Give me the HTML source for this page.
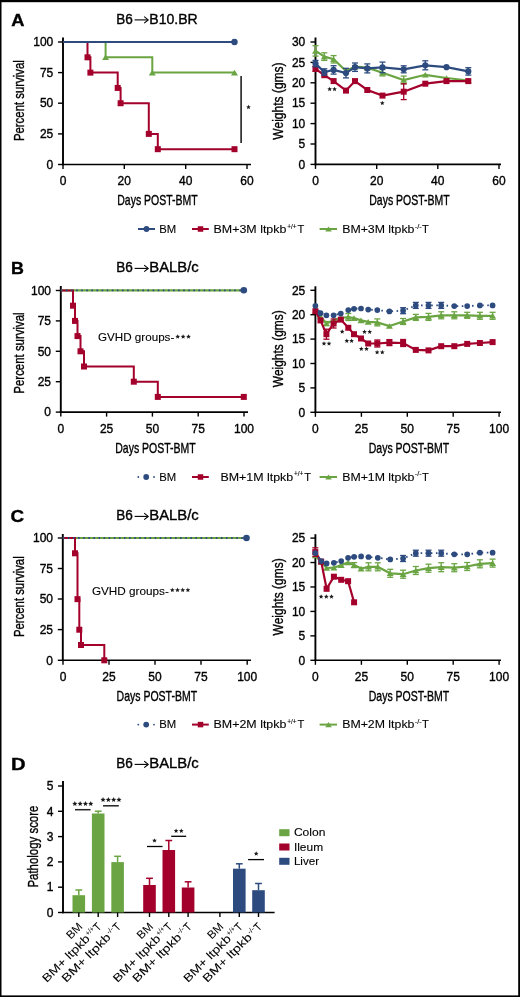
<!DOCTYPE html>
<html><head><meta charset="utf-8"><style>
html,body{margin:0;padding:0;background:#fff;}
body{width:520px;height:997px;overflow:hidden;}
svg{display:block;font-family:"Liberation Sans", sans-serif;will-change:transform;} text{stroke:#000;stroke-width:0.35px;} .nl text{stroke-width:0.05px;} text.lg{stroke-width:0.1px;}
</style></head><body>
<svg width="520" height="997" viewBox="0 0 520 997">
<rect x="0" y="0" width="520" height="997" fill="#fff"/>
<text x="11.3" y="25.8" font-size="16.5" text-anchor="start" font-weight="bold" textLength="13.2" lengthAdjust="spacingAndGlyphs">A</text>
<text x="11.0" y="274.3" font-size="16.5" text-anchor="start" font-weight="bold" textLength="12.9" lengthAdjust="spacingAndGlyphs">B</text>
<text x="10.6" y="522.2" font-size="16.5" text-anchor="start" font-weight="bold" textLength="13.6" lengthAdjust="spacingAndGlyphs">C</text>
<text x="11.0" y="770.2" font-size="16.5" text-anchor="start" font-weight="bold" textLength="14.6" lengthAdjust="spacingAndGlyphs">D</text>
<text x="116.2" y="23.9" font-size="13.8" text-anchor="start" textLength="16.6" lengthAdjust="spacingAndGlyphs">B6</text>
<line x1="134.6" y1="19.9" x2="147.6" y2="19.9" stroke="#000" stroke-width="1.1"/>
<polyline points="144.20,16.60 148.20,19.90 144.20,23.20" fill="none" stroke="#000" stroke-width="1.1"/>
<text x="149.3" y="23.9" font-size="13.8" text-anchor="start" textLength="48.5" lengthAdjust="spacingAndGlyphs">B10.BR</text>
<text x="116.2" y="272.4" font-size="13.8" text-anchor="start" textLength="16.6" lengthAdjust="spacingAndGlyphs">B6</text>
<line x1="134.6" y1="268.4" x2="147.6" y2="268.4" stroke="#000" stroke-width="1.1"/>
<polyline points="144.20,265.10 148.20,268.40 144.20,271.70" fill="none" stroke="#000" stroke-width="1.1"/>
<text x="149.3" y="272.4" font-size="13.8" text-anchor="start" textLength="49.5" lengthAdjust="spacingAndGlyphs">BALB/c</text>
<text x="116.2" y="520.4" font-size="13.8" text-anchor="start" textLength="16.6" lengthAdjust="spacingAndGlyphs">B6</text>
<line x1="134.6" y1="516.4" x2="147.6" y2="516.4" stroke="#000" stroke-width="1.1"/>
<polyline points="144.20,513.10 148.20,516.40 144.20,519.70" fill="none" stroke="#000" stroke-width="1.1"/>
<text x="149.3" y="520.4" font-size="13.8" text-anchor="start" textLength="49.5" lengthAdjust="spacingAndGlyphs">BALB/c</text>
<text x="116.2" y="768.4" font-size="13.8" text-anchor="start" textLength="16.6" lengthAdjust="spacingAndGlyphs">B6</text>
<line x1="134.6" y1="764.4" x2="147.6" y2="764.4" stroke="#000" stroke-width="1.1"/>
<polyline points="144.20,761.10 148.20,764.40 144.20,767.70" fill="none" stroke="#000" stroke-width="1.1"/>
<text x="149.3" y="768.4" font-size="13.8" text-anchor="start" textLength="49.5" lengthAdjust="spacingAndGlyphs">BALB/c</text>
<line x1="63" y1="37.5" x2="63" y2="165.3" stroke="#000" stroke-width="1.9"/>
<line x1="58" y1="42" x2="63" y2="42" stroke="#000" stroke-width="1.4"/>
<text x="53.3" y="46.2" font-size="12" text-anchor="end">100</text>
<line x1="58" y1="72.6" x2="63" y2="72.6" stroke="#000" stroke-width="1.4"/>
<text x="53.3" y="76.8" font-size="12" text-anchor="end">75</text>
<line x1="58" y1="103.2" x2="63" y2="103.2" stroke="#000" stroke-width="1.4"/>
<text x="53.3" y="107.4" font-size="12" text-anchor="end">50</text>
<line x1="58" y1="133.9" x2="63" y2="133.9" stroke="#000" stroke-width="1.4"/>
<text x="53.3" y="138.1" font-size="12" text-anchor="end">25</text>
<line x1="58" y1="164.5" x2="63" y2="164.5" stroke="#000" stroke-width="1.4"/>
<text x="53.3" y="168.7" font-size="12" text-anchor="end">0</text>
<line x1="62.1" y1="164.5" x2="251" y2="164.5" stroke="#000" stroke-width="1.6"/>
<line x1="63" y1="164.5" x2="63" y2="169.0" stroke="#000" stroke-width="1.4"/>
<text x="63" y="184.8" font-size="12" text-anchor="middle">0</text>
<line x1="124.3" y1="164.5" x2="124.3" y2="169.0" stroke="#000" stroke-width="1.4"/>
<text x="124.3" y="184.8" font-size="12" text-anchor="middle">20</text>
<line x1="185.7" y1="164.5" x2="185.7" y2="169.0" stroke="#000" stroke-width="1.4"/>
<text x="185.7" y="184.8" font-size="12" text-anchor="middle">40</text>
<line x1="247" y1="164.5" x2="247" y2="169.0" stroke="#000" stroke-width="1.4"/>
<text x="247" y="184.8" font-size="12" text-anchor="middle">60</text>
<text x="24.4" y="100.6" font-size="14.6" text-anchor="middle" textLength="81" lengthAdjust="spacingAndGlyphs" transform="rotate(-90 24.4 100.6)">Percent survival</text>
<text x="157.5" y="205.4" font-size="14.3" text-anchor="middle" textLength="80.5" lengthAdjust="spacingAndGlyphs">Days POST-BMT</text>
<polyline points="63.00,42.00 105.60,42.00 105.60,57.31 152.30,57.31 152.30,72.62 234.50,72.62" fill="none" stroke="#6ba543" stroke-width="2" stroke-linejoin="miter"/>
<polygon points="102.10,60.11 109.10,60.11 105.60,54.51" fill="#6ba543"/>
<polygon points="148.80,75.42 155.80,75.42 152.30,69.83" fill="#6ba543"/>
<polygon points="231.00,75.42 238.00,75.42 234.50,69.83" fill="#6ba543"/>
<polyline points="63.00,42.00 87.50,42.00 87.50,57.31 90.40,57.31 90.40,72.62 117.70,72.62 117.70,87.94 120.60,87.94 120.60,103.25 148.80,103.25 148.80,133.88 157.80,133.88 157.80,149.19 234.50,149.19" fill="none" stroke="#a3002b" stroke-width="2" stroke-linejoin="miter"/>
<rect x="84.50" y="54.31" width="6" height="6" fill="#a3002b"/>
<rect x="87.40" y="69.62" width="6" height="6" fill="#a3002b"/>
<rect x="114.70" y="84.94" width="6" height="6" fill="#a3002b"/>
<rect x="117.60" y="100.25" width="6" height="6" fill="#a3002b"/>
<rect x="145.80" y="130.88" width="6" height="6" fill="#a3002b"/>
<rect x="154.80" y="146.19" width="6" height="6" fill="#a3002b"/>
<rect x="231.50" y="146.19" width="6" height="6" fill="#a3002b"/>
<polyline points="63.00,42.00 234.50,42.00" fill="none" stroke="#2d4b7f" stroke-width="2" stroke-linejoin="miter"/>
<circle cx="234.5" cy="42" r="3.2" fill="#2d4b7f"/>
<line x1="241.1" y1="76" x2="241.1" y2="143" stroke="#111" stroke-width="1.5"/>
<polygon points="248.50,104.80 249.13,106.33 250.78,106.46 249.53,107.53 249.91,109.14 248.50,108.28 247.09,109.14 247.47,107.53 246.22,106.46 247.87,106.33" fill="#1a1a1a"/>
<line x1="315.5" y1="37.5" x2="315.5" y2="165.20000000000002" stroke="#000" stroke-width="1.9"/>
<line x1="310.5" y1="42.0" x2="315.5" y2="42.0" stroke="#000" stroke-width="1.4"/>
<text x="305.3" y="46.2" font-size="12" text-anchor="end">30</text>
<line x1="310.5" y1="62.4" x2="315.5" y2="62.4" stroke="#000" stroke-width="1.4"/>
<text x="305.3" y="66.6" font-size="12" text-anchor="end">25</text>
<line x1="310.5" y1="82.8" x2="315.5" y2="82.8" stroke="#000" stroke-width="1.4"/>
<text x="305.3" y="87.0" font-size="12" text-anchor="end">20</text>
<line x1="310.5" y1="103.19999999999999" x2="315.5" y2="103.19999999999999" stroke="#000" stroke-width="1.4"/>
<text x="305.3" y="107.39999999999999" font-size="12" text-anchor="end">15</text>
<line x1="310.5" y1="123.6" x2="315.5" y2="123.6" stroke="#000" stroke-width="1.4"/>
<text x="305.3" y="127.8" font-size="12" text-anchor="end">10</text>
<line x1="310.5" y1="144.0" x2="315.5" y2="144.0" stroke="#000" stroke-width="1.4"/>
<text x="305.3" y="148.2" font-size="12" text-anchor="end">5</text>
<line x1="310.5" y1="164.39999999999998" x2="315.5" y2="164.39999999999998" stroke="#000" stroke-width="1.4"/>
<text x="305.3" y="168.59999999999997" font-size="12" text-anchor="end">0</text>
<line x1="314.6" y1="164.4" x2="501" y2="164.4" stroke="#000" stroke-width="1.6"/>
<line x1="315.5" y1="164.4" x2="315.5" y2="168.9" stroke="#000" stroke-width="1.4"/>
<text x="315.5" y="184.8" font-size="12" text-anchor="middle">0</text>
<line x1="376.7" y1="164.4" x2="376.7" y2="168.9" stroke="#000" stroke-width="1.4"/>
<text x="376.7" y="184.8" font-size="12" text-anchor="middle">20</text>
<line x1="437.8" y1="164.4" x2="437.8" y2="168.9" stroke="#000" stroke-width="1.4"/>
<text x="437.8" y="184.8" font-size="12" text-anchor="middle">40</text>
<line x1="499" y1="164.4" x2="499" y2="168.9" stroke="#000" stroke-width="1.4"/>
<text x="499" y="184.8" font-size="12" text-anchor="middle">60</text>
<text x="283.1" y="101" font-size="14.6" text-anchor="middle" textLength="77.3" lengthAdjust="spacingAndGlyphs" transform="rotate(-90 283.1 101)">Weights (gms)</text>
<text x="409.5" y="205.4" font-size="14.3" text-anchor="middle" textLength="80.5" lengthAdjust="spacingAndGlyphs">Days POST-BMT</text>
<polyline points="315.50,50.90 324.30,56.60 333.60,59.30 346.00,71.00 355.00,66.70 367.30,67.70 382.50,72.70 403.70,80.00 425.30,74.80 446.50,78.00 468.30,80.50" fill="none" stroke="#6ba543" stroke-width="2.2" stroke-linejoin="miter"/>
<line x1="315.5" y1="45.699999999999996" x2="315.5" y2="56.1" stroke="#6ba543" stroke-width="1.3"/>
<line x1="312.5" y1="45.699999999999996" x2="318.5" y2="45.699999999999996" stroke="#6ba543" stroke-width="1.3"/>
<line x1="312.5" y1="56.1" x2="318.5" y2="56.1" stroke="#6ba543" stroke-width="1.3"/>
<line x1="324.3" y1="52.800000000000004" x2="324.3" y2="60.4" stroke="#6ba543" stroke-width="1.3"/>
<line x1="321.3" y1="52.800000000000004" x2="327.3" y2="52.800000000000004" stroke="#6ba543" stroke-width="1.3"/>
<line x1="321.3" y1="60.4" x2="327.3" y2="60.4" stroke="#6ba543" stroke-width="1.3"/>
<line x1="333.6" y1="55.599999999999994" x2="333.6" y2="63.0" stroke="#6ba543" stroke-width="1.3"/>
<line x1="330.6" y1="55.599999999999994" x2="336.6" y2="55.599999999999994" stroke="#6ba543" stroke-width="1.3"/>
<line x1="330.6" y1="63.0" x2="336.6" y2="63.0" stroke="#6ba543" stroke-width="1.3"/>
<line x1="346" y1="69" x2="346" y2="73" stroke="#6ba543" stroke-width="1.3"/>
<line x1="343.0" y1="69" x2="349.0" y2="69" stroke="#6ba543" stroke-width="1.3"/>
<line x1="343.0" y1="73" x2="349.0" y2="73" stroke="#6ba543" stroke-width="1.3"/>
<line x1="355" y1="65.7" x2="355" y2="67.7" stroke="#6ba543" stroke-width="1.3"/>
<line x1="352.0" y1="65.7" x2="358.0" y2="65.7" stroke="#6ba543" stroke-width="1.3"/>
<line x1="352.0" y1="67.7" x2="358.0" y2="67.7" stroke="#6ba543" stroke-width="1.3"/>
<line x1="367.3" y1="66.9" x2="367.3" y2="68.5" stroke="#6ba543" stroke-width="1.3"/>
<line x1="364.3" y1="66.9" x2="370.3" y2="66.9" stroke="#6ba543" stroke-width="1.3"/>
<line x1="364.3" y1="68.5" x2="370.3" y2="68.5" stroke="#6ba543" stroke-width="1.3"/>
<line x1="382.5" y1="69.5" x2="382.5" y2="75.9" stroke="#6ba543" stroke-width="1.3"/>
<line x1="379.5" y1="69.5" x2="385.5" y2="69.5" stroke="#6ba543" stroke-width="1.3"/>
<line x1="379.5" y1="75.9" x2="385.5" y2="75.9" stroke="#6ba543" stroke-width="1.3"/>
<line x1="403.7" y1="76.1" x2="403.7" y2="83.9" stroke="#6ba543" stroke-width="1.3"/>
<line x1="400.7" y1="76.1" x2="406.7" y2="76.1" stroke="#6ba543" stroke-width="1.3"/>
<line x1="400.7" y1="83.9" x2="406.7" y2="83.9" stroke="#6ba543" stroke-width="1.3"/>
<polygon points="312.00,53.70 319.00,53.70 315.50,48.10" fill="#6ba543"/>
<polygon points="320.80,59.40 327.80,59.40 324.30,53.80" fill="#6ba543"/>
<polygon points="330.10,62.10 337.10,62.10 333.60,56.50" fill="#6ba543"/>
<polygon points="342.50,73.80 349.50,73.80 346.00,68.20" fill="#6ba543"/>
<polygon points="351.50,69.50 358.50,69.50 355.00,63.90" fill="#6ba543"/>
<polygon points="363.80,70.50 370.80,70.50 367.30,64.90" fill="#6ba543"/>
<polygon points="379.00,75.50 386.00,75.50 382.50,69.90" fill="#6ba543"/>
<polygon points="400.20,82.80 407.20,82.80 403.70,77.20" fill="#6ba543"/>
<polygon points="421.80,77.60 428.80,77.60 425.30,72.00" fill="#6ba543"/>
<polygon points="443.00,80.80 450.00,80.80 446.50,75.20" fill="#6ba543"/>
<polygon points="464.80,83.30 471.80,83.30 468.30,77.70" fill="#6ba543"/>
<polyline points="315.50,68.80 324.30,75.20 333.60,81.10 346.00,90.60 355.00,81.10 367.30,90.00 382.50,95.60 403.70,91.70 425.30,83.70 446.50,81.10 468.30,81.10" fill="none" stroke="#a3002b" stroke-width="2.2" stroke-linejoin="miter"/>
<line x1="315.5" y1="66.3" x2="315.5" y2="71.3" stroke="#a3002b" stroke-width="1.3"/>
<line x1="312.5" y1="66.3" x2="318.5" y2="66.3" stroke="#a3002b" stroke-width="1.3"/>
<line x1="312.5" y1="71.3" x2="318.5" y2="71.3" stroke="#a3002b" stroke-width="1.3"/>
<line x1="403.7" y1="83.8" x2="403.7" y2="99.60000000000001" stroke="#a3002b" stroke-width="1.3"/>
<line x1="400.7" y1="83.8" x2="406.7" y2="83.8" stroke="#a3002b" stroke-width="1.3"/>
<line x1="400.7" y1="99.60000000000001" x2="406.7" y2="99.60000000000001" stroke="#a3002b" stroke-width="1.3"/>
<rect x="312.50" y="65.80" width="6" height="6" fill="#a3002b"/>
<rect x="321.30" y="72.20" width="6" height="6" fill="#a3002b"/>
<rect x="330.60" y="78.10" width="6" height="6" fill="#a3002b"/>
<rect x="343.00" y="87.60" width="6" height="6" fill="#a3002b"/>
<rect x="352.00" y="78.10" width="6" height="6" fill="#a3002b"/>
<rect x="364.30" y="87.00" width="6" height="6" fill="#a3002b"/>
<rect x="379.50" y="92.60" width="6" height="6" fill="#a3002b"/>
<rect x="400.70" y="88.70" width="6" height="6" fill="#a3002b"/>
<rect x="422.30" y="80.70" width="6" height="6" fill="#a3002b"/>
<rect x="443.50" y="78.10" width="6" height="6" fill="#a3002b"/>
<rect x="465.30" y="78.10" width="6" height="6" fill="#a3002b"/>
<polyline points="315.50,63.60 324.30,72.00 333.60,69.90 346.00,73.10 355.00,67.20 367.30,68.40 382.50,67.40 403.70,69.30 425.30,65.30 446.50,67.20 468.30,71.40" fill="none" stroke="#2d4b7f" stroke-width="2.2" stroke-linejoin="miter"/>
<line x1="315.5" y1="60.4" x2="315.5" y2="66.8" stroke="#2d4b7f" stroke-width="1.3"/>
<line x1="312.5" y1="60.4" x2="318.5" y2="60.4" stroke="#2d4b7f" stroke-width="1.3"/>
<line x1="312.5" y1="66.8" x2="318.5" y2="66.8" stroke="#2d4b7f" stroke-width="1.3"/>
<line x1="324.3" y1="68.8" x2="324.3" y2="75.2" stroke="#2d4b7f" stroke-width="1.3"/>
<line x1="321.3" y1="68.8" x2="327.3" y2="68.8" stroke="#2d4b7f" stroke-width="1.3"/>
<line x1="321.3" y1="75.2" x2="327.3" y2="75.2" stroke="#2d4b7f" stroke-width="1.3"/>
<line x1="333.6" y1="65.7" x2="333.6" y2="74.10000000000001" stroke="#2d4b7f" stroke-width="1.3"/>
<line x1="330.6" y1="65.7" x2="336.6" y2="65.7" stroke="#2d4b7f" stroke-width="1.3"/>
<line x1="330.6" y1="74.10000000000001" x2="336.6" y2="74.10000000000001" stroke="#2d4b7f" stroke-width="1.3"/>
<line x1="346" y1="68.3" x2="346" y2="77.89999999999999" stroke="#2d4b7f" stroke-width="1.3"/>
<line x1="343.0" y1="68.3" x2="349.0" y2="68.3" stroke="#2d4b7f" stroke-width="1.3"/>
<line x1="343.0" y1="77.89999999999999" x2="349.0" y2="77.89999999999999" stroke="#2d4b7f" stroke-width="1.3"/>
<line x1="355" y1="63.0" x2="355" y2="71.4" stroke="#2d4b7f" stroke-width="1.3"/>
<line x1="352.0" y1="63.0" x2="358.0" y2="63.0" stroke="#2d4b7f" stroke-width="1.3"/>
<line x1="352.0" y1="71.4" x2="358.0" y2="71.4" stroke="#2d4b7f" stroke-width="1.3"/>
<line x1="367.3" y1="63.900000000000006" x2="367.3" y2="72.9" stroke="#2d4b7f" stroke-width="1.3"/>
<line x1="364.3" y1="63.900000000000006" x2="370.3" y2="63.900000000000006" stroke="#2d4b7f" stroke-width="1.3"/>
<line x1="364.3" y1="72.9" x2="370.3" y2="72.9" stroke="#2d4b7f" stroke-width="1.3"/>
<line x1="382.5" y1="62.10000000000001" x2="382.5" y2="72.7" stroke="#2d4b7f" stroke-width="1.3"/>
<line x1="379.5" y1="62.10000000000001" x2="385.5" y2="62.10000000000001" stroke="#2d4b7f" stroke-width="1.3"/>
<line x1="379.5" y1="72.7" x2="385.5" y2="72.7" stroke="#2d4b7f" stroke-width="1.3"/>
<line x1="403.7" y1="65.8" x2="403.7" y2="72.8" stroke="#2d4b7f" stroke-width="1.3"/>
<line x1="400.7" y1="65.8" x2="406.7" y2="65.8" stroke="#2d4b7f" stroke-width="1.3"/>
<line x1="400.7" y1="72.8" x2="406.7" y2="72.8" stroke="#2d4b7f" stroke-width="1.3"/>
<line x1="425.3" y1="60.8" x2="425.3" y2="69.8" stroke="#2d4b7f" stroke-width="1.3"/>
<line x1="422.3" y1="60.8" x2="428.3" y2="60.8" stroke="#2d4b7f" stroke-width="1.3"/>
<line x1="422.3" y1="69.8" x2="428.3" y2="69.8" stroke="#2d4b7f" stroke-width="1.3"/>
<line x1="468.3" y1="67.7" x2="468.3" y2="75.10000000000001" stroke="#2d4b7f" stroke-width="1.3"/>
<line x1="465.3" y1="67.7" x2="471.3" y2="67.7" stroke="#2d4b7f" stroke-width="1.3"/>
<line x1="465.3" y1="75.10000000000001" x2="471.3" y2="75.10000000000001" stroke="#2d4b7f" stroke-width="1.3"/>
<circle cx="315.5" cy="63.6" r="3.1" fill="#2d4b7f"/>
<circle cx="324.3" cy="72" r="3.1" fill="#2d4b7f"/>
<circle cx="333.6" cy="69.9" r="3.1" fill="#2d4b7f"/>
<circle cx="346" cy="73.1" r="3.1" fill="#2d4b7f"/>
<circle cx="355" cy="67.2" r="3.1" fill="#2d4b7f"/>
<circle cx="367.3" cy="68.4" r="3.1" fill="#2d4b7f"/>
<circle cx="382.5" cy="67.4" r="3.1" fill="#2d4b7f"/>
<circle cx="403.7" cy="69.3" r="3.1" fill="#2d4b7f"/>
<circle cx="425.3" cy="65.3" r="3.1" fill="#2d4b7f"/>
<circle cx="446.5" cy="67.2" r="3.1" fill="#2d4b7f"/>
<circle cx="468.3" cy="71.4" r="3.1" fill="#2d4b7f"/>
<polygon points="329.65,86.75 330.30,88.31 331.98,88.44 330.70,89.54 331.09,91.18 329.65,90.30 328.21,91.18 328.60,89.54 327.32,88.44 329.00,88.31" fill="#1a1a1a"/>
<polygon points="334.55,86.75 335.20,88.31 336.88,88.44 335.60,89.54 335.99,91.18 334.55,90.30 333.11,91.18 333.50,89.54 332.22,88.44 333.90,88.31" fill="#1a1a1a"/>
<polygon points="382.30,100.65 382.95,102.21 384.63,102.34 383.35,103.44 383.74,105.08 382.30,104.20 380.86,105.08 381.25,103.44 379.97,102.34 381.65,102.21" fill="#1a1a1a"/>
<line x1="138" y1="229" x2="155" y2="229" stroke="#2d4b7f" stroke-width="2"/>
<circle cx="146.5" cy="229" r="2.9" fill="#2d4b7f"/>
<text x="159.3" y="233.3" font-size="11.1" text-anchor="start" class="lg" textLength="17" lengthAdjust="spacingAndGlyphs">BM</text>
<line x1="192" y1="229" x2="208.8" y2="229" stroke="#a3002b" stroke-width="2"/>
<rect x="197.75" y="226.25" width="5.5" height="5.5" fill="#a3002b"/>
<text x="213.6" y="233.3" font-size="11.1" text-anchor="start" class="lg" textLength="72.8" lengthAdjust="spacingAndGlyphs">BM+3M ltpkb</text>
<text x="287.2" y="229.0" font-size="6.6" text-anchor="start" class="lg" textLength="9.4" lengthAdjust="spacingAndGlyphs">+/+</text>
<text x="297.4" y="233.3" font-size="11.1" text-anchor="start" class="lg" textLength="6.8" lengthAdjust="spacingAndGlyphs">T</text>
<line x1="319.6" y1="229" x2="337" y2="229" stroke="#6ba543" stroke-width="2"/>
<polygon points="325.25,231.60 331.75,231.60 328.50,226.40" fill="#6ba543"/>
<text x="342.2" y="233.3" font-size="11.1" text-anchor="start" class="lg" textLength="72.2" lengthAdjust="spacingAndGlyphs">BM+3M ltpkb</text>
<text x="414.79999999999995" y="229.0" font-size="6.6" text-anchor="start" class="lg" textLength="7" lengthAdjust="spacingAndGlyphs">-/-</text>
<text x="422.0" y="233.3" font-size="11.1" text-anchor="start" class="lg" textLength="6.8" lengthAdjust="spacingAndGlyphs">T</text>
<circle cx="138.3" cy="477" r="0.9" fill="#2d4b7f"/>
<circle cx="146.2" cy="477" r="2.9" fill="#2d4b7f"/>
<circle cx="154" cy="477" r="0.9" fill="#2d4b7f"/>
<text x="159.3" y="480.5" font-size="11.1" text-anchor="start" class="lg" textLength="17" lengthAdjust="spacingAndGlyphs">BM</text>
<line x1="192" y1="477" x2="208.8" y2="477" stroke="#a3002b" stroke-width="2"/>
<rect x="197.75" y="474.25" width="5.5" height="5.5" fill="#a3002b"/>
<text x="220.4" y="480.5" font-size="11.1" text-anchor="start" class="lg" textLength="72.8" lengthAdjust="spacingAndGlyphs">BM+1M ltpkb</text>
<text x="294.0" y="476.2" font-size="6.6" text-anchor="start" class="lg" textLength="9.4" lengthAdjust="spacingAndGlyphs">+/+</text>
<text x="304.2" y="480.5" font-size="11.1" text-anchor="start" class="lg" textLength="6.8" lengthAdjust="spacingAndGlyphs">T</text>
<line x1="319.6" y1="477" x2="337" y2="477" stroke="#6ba543" stroke-width="2"/>
<polygon points="325.25,479.60 331.75,479.60 328.50,474.40" fill="#6ba543"/>
<text x="342.2" y="480.5" font-size="11.1" text-anchor="start" class="lg" textLength="72.2" lengthAdjust="spacingAndGlyphs">BM+1M ltpkb</text>
<text x="414.79999999999995" y="476.2" font-size="6.6" text-anchor="start" class="lg" textLength="7" lengthAdjust="spacingAndGlyphs">-/-</text>
<text x="422.0" y="480.5" font-size="11.1" text-anchor="start" class="lg" textLength="6.8" lengthAdjust="spacingAndGlyphs">T</text>
<circle cx="138.3" cy="724.6" r="0.9" fill="#2d4b7f"/>
<circle cx="146.2" cy="724.6" r="2.9" fill="#2d4b7f"/>
<circle cx="154" cy="724.6" r="0.9" fill="#2d4b7f"/>
<text x="159.3" y="727.9" font-size="11.1" text-anchor="start" class="lg" textLength="17" lengthAdjust="spacingAndGlyphs">BM</text>
<line x1="192" y1="724.6" x2="208.8" y2="724.6" stroke="#a3002b" stroke-width="2"/>
<rect x="197.75" y="721.85" width="5.5" height="5.5" fill="#a3002b"/>
<text x="213.6" y="727.9" font-size="11.1" text-anchor="start" class="lg" textLength="72.8" lengthAdjust="spacingAndGlyphs">BM+2M ltpkb</text>
<text x="287.2" y="723.6" font-size="6.6" text-anchor="start" class="lg" textLength="9.4" lengthAdjust="spacingAndGlyphs">+/+</text>
<text x="297.4" y="727.9" font-size="11.1" text-anchor="start" class="lg" textLength="6.8" lengthAdjust="spacingAndGlyphs">T</text>
<line x1="319.6" y1="724.6" x2="337" y2="724.6" stroke="#6ba543" stroke-width="2"/>
<polygon points="325.25,727.20 331.75,727.20 328.50,722.00" fill="#6ba543"/>
<text x="342.2" y="727.9" font-size="11.1" text-anchor="start" class="lg" textLength="72.2" lengthAdjust="spacingAndGlyphs">BM+2M ltpkb</text>
<text x="414.79999999999995" y="723.6" font-size="6.6" text-anchor="start" class="lg" textLength="7" lengthAdjust="spacingAndGlyphs">-/-</text>
<text x="422.0" y="727.9" font-size="11.1" text-anchor="start" class="lg" textLength="6.8" lengthAdjust="spacingAndGlyphs">T</text>
<line x1="60.8" y1="286" x2="60.8" y2="412.90000000000003" stroke="#000" stroke-width="1.9"/>
<line x1="55.8" y1="290.5" x2="60.8" y2="290.5" stroke="#000" stroke-width="1.4"/>
<text x="51" y="294.7" font-size="12" text-anchor="end">100</text>
<line x1="55.8" y1="320.9" x2="60.8" y2="320.9" stroke="#000" stroke-width="1.4"/>
<text x="51" y="325.09999999999997" font-size="12" text-anchor="end">75</text>
<line x1="55.8" y1="351.3" x2="60.8" y2="351.3" stroke="#000" stroke-width="1.4"/>
<text x="51" y="355.5" font-size="12" text-anchor="end">50</text>
<line x1="55.8" y1="381.7" x2="60.8" y2="381.7" stroke="#000" stroke-width="1.4"/>
<text x="51" y="385.9" font-size="12" text-anchor="end">25</text>
<line x1="55.8" y1="412.1" x2="60.8" y2="412.1" stroke="#000" stroke-width="1.4"/>
<text x="51" y="416.3" font-size="12" text-anchor="end">0</text>
<line x1="59.9" y1="412.1" x2="248" y2="412.1" stroke="#000" stroke-width="1.6"/>
<line x1="60.8" y1="412.1" x2="60.8" y2="416.6" stroke="#000" stroke-width="1.4"/>
<text x="60.8" y="432.6" font-size="12" text-anchor="middle">0</text>
<line x1="106.6" y1="412.1" x2="106.6" y2="416.6" stroke="#000" stroke-width="1.4"/>
<text x="106.6" y="432.6" font-size="12" text-anchor="middle">25</text>
<line x1="152.4" y1="412.1" x2="152.4" y2="416.6" stroke="#000" stroke-width="1.4"/>
<text x="152.4" y="432.6" font-size="12" text-anchor="middle">50</text>
<line x1="198.2" y1="412.1" x2="198.2" y2="416.6" stroke="#000" stroke-width="1.4"/>
<text x="198.2" y="432.6" font-size="12" text-anchor="middle">75</text>
<line x1="244" y1="412.1" x2="244" y2="416.6" stroke="#000" stroke-width="1.4"/>
<text x="244" y="432.6" font-size="12" text-anchor="middle">100</text>
<text x="24.4" y="353" font-size="14.6" text-anchor="middle" textLength="81.3" lengthAdjust="spacingAndGlyphs" transform="rotate(-90 24.4 353)">Percent survival</text>
<text x="155.5" y="453.3" font-size="14.3" text-anchor="middle" textLength="80.5" lengthAdjust="spacingAndGlyphs">Days POST-BMT</text>
<polyline points="60.80,290.30 243.80,290.30" fill="none" stroke="#6ba543" stroke-width="2.2" stroke-linejoin="miter"/>
<polyline points="60.80,290.50 73.00,290.50 73.00,305.70 75.00,305.70 75.00,320.90 77.50,320.90 77.50,336.10 80.50,336.10 80.50,351.30 84.00,351.30 84.00,366.50 133.80,366.50 133.80,381.70 157.80,381.70 157.80,396.90 243.80,396.90" fill="none" stroke="#a3002b" stroke-width="2" stroke-linejoin="miter"/>
<rect x="70.00" y="302.70" width="6" height="6" fill="#a3002b"/>
<rect x="72.00" y="317.90" width="6" height="6" fill="#a3002b"/>
<rect x="74.50" y="333.10" width="6" height="6" fill="#a3002b"/>
<rect x="77.50" y="348.30" width="6" height="6" fill="#a3002b"/>
<rect x="81.00" y="363.50" width="6" height="6" fill="#a3002b"/>
<rect x="130.80" y="378.70" width="6" height="6" fill="#a3002b"/>
<rect x="154.80" y="393.90" width="6" height="6" fill="#a3002b"/>
<rect x="240.80" y="393.90" width="6" height="6" fill="#a3002b"/>
<polyline points="60.80,290.40 243.80,290.40" fill="none" stroke="#2d4b7f" stroke-width="1.9" stroke-linejoin="miter" stroke-dasharray="1.6 3.5"/>
<circle cx="243.8" cy="290.3" r="3.3" fill="#2d4b7f"/>
<text x="98" y="340.9" font-size="11.2" text-anchor="start" class="lg" textLength="76.3" lengthAdjust="spacingAndGlyphs">GVHD groups-</text>
<polygon points="177.70,334.20 178.36,335.79 180.08,335.93 178.77,337.05 179.17,338.72 177.70,337.82 176.23,338.72 176.63,337.05 175.32,335.93 177.04,335.79" fill="#1a1a1a"/>
<polygon points="183.10,334.20 183.76,335.79 185.48,335.93 184.17,337.05 184.57,338.72 183.10,337.82 181.63,338.72 182.03,337.05 180.72,335.93 182.44,335.79" fill="#1a1a1a"/>
<polygon points="188.50,334.20 189.16,335.79 190.88,335.93 189.57,337.05 189.97,338.72 188.50,337.82 187.03,338.72 187.43,337.05 186.12,335.93 187.84,335.79" fill="#1a1a1a"/>
<line x1="315.4" y1="286.3" x2="315.4" y2="413.1" stroke="#000" stroke-width="1.9"/>
<line x1="310.4" y1="290.3" x2="315.4" y2="290.3" stroke="#000" stroke-width="1.4"/>
<text x="305.3" y="294.5" font-size="12" text-anchor="end">25</text>
<line x1="310.4" y1="314.7" x2="315.4" y2="314.7" stroke="#000" stroke-width="1.4"/>
<text x="305.3" y="318.9" font-size="12" text-anchor="end">20</text>
<line x1="310.4" y1="339.1" x2="315.4" y2="339.1" stroke="#000" stroke-width="1.4"/>
<text x="305.3" y="343.3" font-size="12" text-anchor="end">15</text>
<line x1="310.4" y1="363.5" x2="315.4" y2="363.5" stroke="#000" stroke-width="1.4"/>
<text x="305.3" y="367.7" font-size="12" text-anchor="end">10</text>
<line x1="310.4" y1="387.9" x2="315.4" y2="387.9" stroke="#000" stroke-width="1.4"/>
<text x="305.3" y="392.09999999999997" font-size="12" text-anchor="end">5</text>
<line x1="310.4" y1="412.3" x2="315.4" y2="412.3" stroke="#000" stroke-width="1.4"/>
<text x="305.3" y="416.5" font-size="12" text-anchor="end">0</text>
<line x1="314.5" y1="412.3" x2="501" y2="412.3" stroke="#000" stroke-width="1.6"/>
<line x1="315.4" y1="412.3" x2="315.4" y2="416.8" stroke="#000" stroke-width="1.4"/>
<text x="315.4" y="432.6" font-size="12" text-anchor="middle">0</text>
<line x1="361.4" y1="412.3" x2="361.4" y2="416.8" stroke="#000" stroke-width="1.4"/>
<text x="361.4" y="432.6" font-size="12" text-anchor="middle">25</text>
<line x1="407.3" y1="412.3" x2="407.3" y2="416.8" stroke="#000" stroke-width="1.4"/>
<text x="407.3" y="432.6" font-size="12" text-anchor="middle">50</text>
<line x1="453.2" y1="412.3" x2="453.2" y2="416.8" stroke="#000" stroke-width="1.4"/>
<text x="453.2" y="432.6" font-size="12" text-anchor="middle">75</text>
<line x1="499.1" y1="412.3" x2="499.1" y2="416.8" stroke="#000" stroke-width="1.4"/>
<text x="499.1" y="432.6" font-size="12" text-anchor="middle">100</text>
<text x="283" y="348.7" font-size="14.6" text-anchor="middle" textLength="77" lengthAdjust="spacingAndGlyphs" transform="rotate(-90 283 348.7)">Weights (gms)</text>
<text x="409" y="453.3" font-size="14.3" text-anchor="middle" textLength="80.5" lengthAdjust="spacingAndGlyphs">Days POST-BMT</text>
<polyline points="315.40,311.00 320.50,316.50 326.40,323.50 333.60,320.40 340.80,318.00 348.30,317.00 354.00,318.10 361.00,320.40 368.20,321.90 377.30,322.40 389.40,326.00 403.10,321.50 415.80,317.40 428.50,316.90 441.20,315.30 454.30,315.30 467.20,315.30 479.90,315.80 492.60,315.80" fill="none" stroke="#6ba543" stroke-width="2.2" stroke-linejoin="miter"/>
<line x1="326.4" y1="321.5" x2="326.4" y2="325.5" stroke="#6ba543" stroke-width="1.3"/>
<line x1="323.4" y1="321.5" x2="329.4" y2="321.5" stroke="#6ba543" stroke-width="1.3"/>
<line x1="323.4" y1="325.5" x2="329.4" y2="325.5" stroke="#6ba543" stroke-width="1.3"/>
<line x1="348.3" y1="313.5" x2="348.3" y2="320.5" stroke="#6ba543" stroke-width="1.3"/>
<line x1="345.3" y1="313.5" x2="351.3" y2="313.5" stroke="#6ba543" stroke-width="1.3"/>
<line x1="345.3" y1="320.5" x2="351.3" y2="320.5" stroke="#6ba543" stroke-width="1.3"/>
<line x1="377.3" y1="318.9" x2="377.3" y2="325.9" stroke="#6ba543" stroke-width="1.3"/>
<line x1="374.3" y1="318.9" x2="380.3" y2="318.9" stroke="#6ba543" stroke-width="1.3"/>
<line x1="374.3" y1="325.9" x2="380.3" y2="325.9" stroke="#6ba543" stroke-width="1.3"/>
<line x1="403.1" y1="318.5" x2="403.1" y2="324.5" stroke="#6ba543" stroke-width="1.3"/>
<line x1="400.1" y1="318.5" x2="406.1" y2="318.5" stroke="#6ba543" stroke-width="1.3"/>
<line x1="400.1" y1="324.5" x2="406.1" y2="324.5" stroke="#6ba543" stroke-width="1.3"/>
<line x1="415.8" y1="314.4" x2="415.8" y2="320.4" stroke="#6ba543" stroke-width="1.3"/>
<line x1="412.8" y1="314.4" x2="418.8" y2="314.4" stroke="#6ba543" stroke-width="1.3"/>
<line x1="412.8" y1="320.4" x2="418.8" y2="320.4" stroke="#6ba543" stroke-width="1.3"/>
<line x1="428.5" y1="313.4" x2="428.5" y2="320.4" stroke="#6ba543" stroke-width="1.3"/>
<line x1="425.5" y1="313.4" x2="431.5" y2="313.4" stroke="#6ba543" stroke-width="1.3"/>
<line x1="425.5" y1="320.4" x2="431.5" y2="320.4" stroke="#6ba543" stroke-width="1.3"/>
<line x1="441.2" y1="311.8" x2="441.2" y2="318.8" stroke="#6ba543" stroke-width="1.3"/>
<line x1="438.2" y1="311.8" x2="444.2" y2="311.8" stroke="#6ba543" stroke-width="1.3"/>
<line x1="438.2" y1="318.8" x2="444.2" y2="318.8" stroke="#6ba543" stroke-width="1.3"/>
<line x1="454.3" y1="311.8" x2="454.3" y2="318.8" stroke="#6ba543" stroke-width="1.3"/>
<line x1="451.3" y1="311.8" x2="457.3" y2="311.8" stroke="#6ba543" stroke-width="1.3"/>
<line x1="451.3" y1="318.8" x2="457.3" y2="318.8" stroke="#6ba543" stroke-width="1.3"/>
<line x1="467.2" y1="312.3" x2="467.2" y2="318.3" stroke="#6ba543" stroke-width="1.3"/>
<line x1="464.2" y1="312.3" x2="470.2" y2="312.3" stroke="#6ba543" stroke-width="1.3"/>
<line x1="464.2" y1="318.3" x2="470.2" y2="318.3" stroke="#6ba543" stroke-width="1.3"/>
<line x1="479.9" y1="312.3" x2="479.9" y2="319.3" stroke="#6ba543" stroke-width="1.3"/>
<line x1="476.9" y1="312.3" x2="482.9" y2="312.3" stroke="#6ba543" stroke-width="1.3"/>
<line x1="476.9" y1="319.3" x2="482.9" y2="319.3" stroke="#6ba543" stroke-width="1.3"/>
<line x1="492.6" y1="312.3" x2="492.6" y2="319.3" stroke="#6ba543" stroke-width="1.3"/>
<line x1="489.6" y1="312.3" x2="495.6" y2="312.3" stroke="#6ba543" stroke-width="1.3"/>
<line x1="489.6" y1="319.3" x2="495.6" y2="319.3" stroke="#6ba543" stroke-width="1.3"/>
<polygon points="311.90,313.80 318.90,313.80 315.40,308.20" fill="#6ba543"/>
<polygon points="317.00,319.30 324.00,319.30 320.50,313.70" fill="#6ba543"/>
<polygon points="322.90,326.30 329.90,326.30 326.40,320.70" fill="#6ba543"/>
<polygon points="330.10,323.20 337.10,323.20 333.60,317.60" fill="#6ba543"/>
<polygon points="337.30,320.80 344.30,320.80 340.80,315.20" fill="#6ba543"/>
<polygon points="344.80,319.80 351.80,319.80 348.30,314.20" fill="#6ba543"/>
<polygon points="350.50,320.90 357.50,320.90 354.00,315.30" fill="#6ba543"/>
<polygon points="357.50,323.20 364.50,323.20 361.00,317.60" fill="#6ba543"/>
<polygon points="364.70,324.70 371.70,324.70 368.20,319.10" fill="#6ba543"/>
<polygon points="373.80,325.20 380.80,325.20 377.30,319.60" fill="#6ba543"/>
<polygon points="385.90,328.80 392.90,328.80 389.40,323.20" fill="#6ba543"/>
<polygon points="399.60,324.30 406.60,324.30 403.10,318.70" fill="#6ba543"/>
<polygon points="412.30,320.20 419.30,320.20 415.80,314.60" fill="#6ba543"/>
<polygon points="425.00,319.70 432.00,319.70 428.50,314.10" fill="#6ba543"/>
<polygon points="437.70,318.10 444.70,318.10 441.20,312.50" fill="#6ba543"/>
<polygon points="450.80,318.10 457.80,318.10 454.30,312.50" fill="#6ba543"/>
<polygon points="463.70,318.10 470.70,318.10 467.20,312.50" fill="#6ba543"/>
<polygon points="476.40,318.60 483.40,318.60 479.90,313.00" fill="#6ba543"/>
<polygon points="489.10,318.60 496.10,318.60 492.60,313.00" fill="#6ba543"/>
<polyline points="315.40,311.20 320.50,320.40 326.40,334.20 333.60,323.50 340.80,319.60 348.30,327.80 354.00,334.20 361.00,338.50 368.20,343.50 377.30,343.50 389.40,342.60 403.10,343.00 415.80,349.90 428.50,350.40 441.20,346.20 454.30,346.20 467.20,343.90 479.90,343.00 492.60,342.10" fill="none" stroke="#a3002b" stroke-width="2.2" stroke-linejoin="miter"/>
<line x1="326.4" y1="329.2" x2="326.4" y2="339.2" stroke="#a3002b" stroke-width="1.3"/>
<line x1="323.4" y1="329.2" x2="329.4" y2="329.2" stroke="#a3002b" stroke-width="1.3"/>
<line x1="323.4" y1="339.2" x2="329.4" y2="339.2" stroke="#a3002b" stroke-width="1.3"/>
<line x1="333.6" y1="319.0" x2="333.6" y2="328.0" stroke="#a3002b" stroke-width="1.3"/>
<line x1="330.6" y1="319.0" x2="336.6" y2="319.0" stroke="#a3002b" stroke-width="1.3"/>
<line x1="330.6" y1="328.0" x2="336.6" y2="328.0" stroke="#a3002b" stroke-width="1.3"/>
<line x1="377.3" y1="340.0" x2="377.3" y2="347.0" stroke="#a3002b" stroke-width="1.3"/>
<line x1="374.3" y1="340.0" x2="380.3" y2="340.0" stroke="#a3002b" stroke-width="1.3"/>
<line x1="374.3" y1="347.0" x2="380.3" y2="347.0" stroke="#a3002b" stroke-width="1.3"/>
<line x1="389.4" y1="339.6" x2="389.4" y2="345.6" stroke="#a3002b" stroke-width="1.3"/>
<line x1="386.4" y1="339.6" x2="392.4" y2="339.6" stroke="#a3002b" stroke-width="1.3"/>
<line x1="386.4" y1="345.6" x2="392.4" y2="345.6" stroke="#a3002b" stroke-width="1.3"/>
<line x1="403.1" y1="339.5" x2="403.1" y2="346.5" stroke="#a3002b" stroke-width="1.3"/>
<line x1="400.1" y1="339.5" x2="406.1" y2="339.5" stroke="#a3002b" stroke-width="1.3"/>
<line x1="400.1" y1="346.5" x2="406.1" y2="346.5" stroke="#a3002b" stroke-width="1.3"/>
<rect x="312.40" y="308.20" width="6" height="6" fill="#a3002b"/>
<rect x="317.50" y="317.40" width="6" height="6" fill="#a3002b"/>
<rect x="323.40" y="331.20" width="6" height="6" fill="#a3002b"/>
<rect x="330.60" y="320.50" width="6" height="6" fill="#a3002b"/>
<rect x="337.80" y="316.60" width="6" height="6" fill="#a3002b"/>
<rect x="345.30" y="324.80" width="6" height="6" fill="#a3002b"/>
<rect x="351.00" y="331.20" width="6" height="6" fill="#a3002b"/>
<rect x="358.00" y="335.50" width="6" height="6" fill="#a3002b"/>
<rect x="365.20" y="340.50" width="6" height="6" fill="#a3002b"/>
<rect x="374.30" y="340.50" width="6" height="6" fill="#a3002b"/>
<rect x="386.40" y="339.60" width="6" height="6" fill="#a3002b"/>
<rect x="400.10" y="340.00" width="6" height="6" fill="#a3002b"/>
<rect x="412.80" y="346.90" width="6" height="6" fill="#a3002b"/>
<rect x="425.50" y="347.40" width="6" height="6" fill="#a3002b"/>
<rect x="438.20" y="343.20" width="6" height="6" fill="#a3002b"/>
<rect x="451.30" y="343.20" width="6" height="6" fill="#a3002b"/>
<rect x="464.20" y="340.90" width="6" height="6" fill="#a3002b"/>
<rect x="476.90" y="340.00" width="6" height="6" fill="#a3002b"/>
<rect x="489.60" y="339.10" width="6" height="6" fill="#a3002b"/>
<line x1="403.1" y1="307.7" x2="403.1" y2="313.7" stroke="#2d4b7f" stroke-width="1.3"/>
<line x1="400.1" y1="307.7" x2="406.1" y2="307.7" stroke="#2d4b7f" stroke-width="1.3"/>
<line x1="400.1" y1="313.7" x2="406.1" y2="313.7" stroke="#2d4b7f" stroke-width="1.3"/>
<line x1="415.8" y1="302.4" x2="415.8" y2="308.4" stroke="#2d4b7f" stroke-width="1.3"/>
<line x1="412.8" y1="302.4" x2="418.8" y2="302.4" stroke="#2d4b7f" stroke-width="1.3"/>
<line x1="412.8" y1="308.4" x2="418.8" y2="308.4" stroke="#2d4b7f" stroke-width="1.3"/>
<line x1="428.5" y1="302.4" x2="428.5" y2="308.4" stroke="#2d4b7f" stroke-width="1.3"/>
<line x1="425.5" y1="302.4" x2="431.5" y2="302.4" stroke="#2d4b7f" stroke-width="1.3"/>
<line x1="425.5" y1="308.4" x2="431.5" y2="308.4" stroke="#2d4b7f" stroke-width="1.3"/>
<line x1="441.2" y1="302.4" x2="441.2" y2="308.4" stroke="#2d4b7f" stroke-width="1.3"/>
<line x1="438.2" y1="302.4" x2="444.2" y2="302.4" stroke="#2d4b7f" stroke-width="1.3"/>
<line x1="438.2" y1="308.4" x2="444.2" y2="308.4" stroke="#2d4b7f" stroke-width="1.3"/>
<polyline points="315.40,305.80 320.50,313.20 326.40,315.30 333.60,315.30 340.80,313.50 348.30,310.10 354.00,308.80 361.00,308.50 368.20,309.60 377.30,310.10 389.40,311.40 403.10,310.70 415.80,305.40 428.50,305.40 441.20,305.40 454.30,306.10 467.20,306.10 479.90,305.40 492.60,305.40" fill="none" stroke="#2d4b7f" stroke-width="1.8" stroke-linejoin="miter" stroke-dasharray="1.6 3.5"/>
<circle cx="315.4" cy="305.8" r="2.85" fill="#2d4b7f"/>
<circle cx="320.5" cy="313.2" r="2.85" fill="#2d4b7f"/>
<circle cx="326.4" cy="315.3" r="2.85" fill="#2d4b7f"/>
<circle cx="333.6" cy="315.3" r="2.85" fill="#2d4b7f"/>
<circle cx="340.8" cy="313.5" r="2.85" fill="#2d4b7f"/>
<circle cx="348.3" cy="310.1" r="2.85" fill="#2d4b7f"/>
<circle cx="354" cy="308.8" r="2.85" fill="#2d4b7f"/>
<circle cx="361" cy="308.5" r="2.85" fill="#2d4b7f"/>
<circle cx="368.2" cy="309.6" r="2.85" fill="#2d4b7f"/>
<circle cx="377.3" cy="310.1" r="2.85" fill="#2d4b7f"/>
<circle cx="389.4" cy="311.4" r="2.85" fill="#2d4b7f"/>
<circle cx="403.1" cy="310.7" r="2.85" fill="#2d4b7f"/>
<circle cx="415.8" cy="305.4" r="2.85" fill="#2d4b7f"/>
<circle cx="428.5" cy="305.4" r="2.85" fill="#2d4b7f"/>
<circle cx="441.2" cy="305.4" r="2.85" fill="#2d4b7f"/>
<circle cx="454.3" cy="306.1" r="2.85" fill="#2d4b7f"/>
<circle cx="467.2" cy="306.1" r="2.85" fill="#2d4b7f"/>
<circle cx="479.9" cy="305.4" r="2.85" fill="#2d4b7f"/>
<circle cx="492.6" cy="305.4" r="2.85" fill="#2d4b7f"/>
<polygon points="324.00,341.15 324.65,342.71 326.33,342.84 325.05,343.94 325.44,345.58 324.00,344.70 322.56,345.58 322.95,343.94 321.67,342.84 323.35,342.71" fill="#1a1a1a"/>
<polygon points="329.00,341.15 329.65,342.71 331.33,342.84 330.05,343.94 330.44,345.58 329.00,344.70 327.56,345.58 327.95,343.94 326.67,342.84 328.35,342.71" fill="#1a1a1a"/>
<polygon points="342.20,329.25 342.85,330.81 344.53,330.94 343.25,332.04 343.64,333.68 342.20,332.80 340.76,333.68 341.15,332.04 339.87,330.94 341.55,330.81" fill="#1a1a1a"/>
<polygon points="346.80,338.45 347.45,340.01 349.13,340.14 347.85,341.24 348.24,342.88 346.80,342.00 345.36,342.88 345.75,341.24 344.47,340.14 346.15,340.01" fill="#1a1a1a"/>
<polygon points="351.60,338.45 352.25,340.01 353.93,340.14 352.65,341.24 353.04,342.88 351.60,342.00 350.16,342.88 350.55,341.24 349.27,340.14 350.95,340.01" fill="#1a1a1a"/>
<polygon points="364.50,329.55 365.15,331.11 366.83,331.24 365.55,332.34 365.94,333.98 364.50,333.10 363.06,333.98 363.45,332.34 362.17,331.24 363.85,331.11" fill="#1a1a1a"/>
<polygon points="369.70,329.55 370.35,331.11 372.03,331.24 370.75,332.34 371.14,333.98 369.70,333.10 368.26,333.98 368.65,332.34 367.37,331.24 369.05,331.11" fill="#1a1a1a"/>
<polygon points="361.30,346.55 361.95,348.11 363.63,348.24 362.35,349.34 362.74,350.98 361.30,350.10 359.86,350.98 360.25,349.34 358.97,348.24 360.65,348.11" fill="#1a1a1a"/>
<polygon points="366.50,346.55 367.15,348.11 368.83,348.24 367.55,349.34 367.94,350.98 366.50,350.10 365.06,350.98 365.45,349.34 364.17,348.24 365.85,348.11" fill="#1a1a1a"/>
<polygon points="377.10,349.85 377.75,351.41 379.43,351.54 378.15,352.64 378.54,354.28 377.10,353.40 375.66,354.28 376.05,352.64 374.77,351.54 376.45,351.41" fill="#1a1a1a"/>
<polygon points="382.30,349.85 382.95,351.41 384.63,351.54 383.35,352.64 383.74,354.28 382.30,353.40 380.86,354.28 381.25,352.64 379.97,351.54 381.65,351.41" fill="#1a1a1a"/>
<line x1="62.8" y1="534" x2="62.8" y2="661.0999999999999" stroke="#000" stroke-width="1.9"/>
<line x1="57.8" y1="538" x2="62.8" y2="538" stroke="#000" stroke-width="1.4"/>
<text x="53" y="542.2" font-size="12" text-anchor="end">100</text>
<line x1="57.8" y1="568.5" x2="62.8" y2="568.5" stroke="#000" stroke-width="1.4"/>
<text x="53" y="572.7" font-size="12" text-anchor="end">75</text>
<line x1="57.8" y1="599" x2="62.8" y2="599" stroke="#000" stroke-width="1.4"/>
<text x="53" y="603.2" font-size="12" text-anchor="end">50</text>
<line x1="57.8" y1="629.6" x2="62.8" y2="629.6" stroke="#000" stroke-width="1.4"/>
<text x="53" y="633.8000000000001" font-size="12" text-anchor="end">25</text>
<line x1="57.8" y1="660.3" x2="62.8" y2="660.3" stroke="#000" stroke-width="1.4"/>
<text x="53" y="664.5" font-size="12" text-anchor="end">0</text>
<line x1="61.9" y1="660.3" x2="251" y2="660.3" stroke="#000" stroke-width="1.6"/>
<line x1="63" y1="660.3" x2="63" y2="664.8" stroke="#000" stroke-width="1.4"/>
<text x="63" y="680.8" font-size="12" text-anchor="middle">0</text>
<line x1="109" y1="660.3" x2="109" y2="664.8" stroke="#000" stroke-width="1.4"/>
<text x="109" y="680.8" font-size="12" text-anchor="middle">25</text>
<line x1="155" y1="660.3" x2="155" y2="664.8" stroke="#000" stroke-width="1.4"/>
<text x="155" y="680.8" font-size="12" text-anchor="middle">50</text>
<line x1="201" y1="660.3" x2="201" y2="664.8" stroke="#000" stroke-width="1.4"/>
<text x="201" y="680.8" font-size="12" text-anchor="middle">75</text>
<line x1="247.2" y1="660.3" x2="247.2" y2="664.8" stroke="#000" stroke-width="1.4"/>
<text x="247.2" y="680.8" font-size="12" text-anchor="middle">100</text>
<text x="24.4" y="596.7" font-size="14.6" text-anchor="middle" textLength="80.8" lengthAdjust="spacingAndGlyphs" transform="rotate(-90 24.4 596.7)">Percent survival</text>
<text x="156.8" y="701.3" font-size="14.3" text-anchor="middle" textLength="80.5" lengthAdjust="spacingAndGlyphs">Days POST-BMT</text>
<polyline points="62.80,538.00 247.00,538.00" fill="none" stroke="#6ba543" stroke-width="2.2" stroke-linejoin="miter"/>
<polyline points="62.80,538.00 75.00,538.00 75.00,553.29 77.50,553.29 77.50,599.15 79.30,599.15 79.30,629.72 81.00,629.72 81.00,645.01 104.30,645.01 104.30,660.30" fill="none" stroke="#a3002b" stroke-width="2" stroke-linejoin="miter"/>
<rect x="72.00" y="550.29" width="6" height="6" fill="#a3002b"/>
<rect x="74.50" y="596.15" width="6" height="6" fill="#a3002b"/>
<rect x="76.30" y="626.72" width="6" height="6" fill="#a3002b"/>
<rect x="78.00" y="642.01" width="6" height="6" fill="#a3002b"/>
<rect x="101.30" y="657.30" width="6" height="6" fill="#a3002b"/>
<polyline points="62.80,538.00 246.50,538.00" fill="none" stroke="#2d4b7f" stroke-width="1.9" stroke-linejoin="miter" stroke-dasharray="1.6 3.5"/>
<circle cx="246.5" cy="538" r="3.3" fill="#2d4b7f"/>
<text x="91.9" y="594.6" font-size="11.2" text-anchor="start" class="lg" textLength="77" lengthAdjust="spacingAndGlyphs">GVHD groups-</text>
<polygon points="172.30,587.60 172.96,589.19 174.68,589.33 173.37,590.45 173.77,592.12 172.30,591.23 170.83,592.12 171.23,590.45 169.92,589.33 171.64,589.19" fill="#1a1a1a"/>
<polygon points="177.50,587.60 178.16,589.19 179.88,589.33 178.57,590.45 178.97,592.12 177.50,591.23 176.03,592.12 176.43,590.45 175.12,589.33 176.84,589.19" fill="#1a1a1a"/>
<polygon points="182.70,587.60 183.36,589.19 185.08,589.33 183.77,590.45 184.17,592.12 182.70,591.23 181.23,592.12 181.63,590.45 180.32,589.33 182.04,589.19" fill="#1a1a1a"/>
<polygon points="187.90,587.60 188.56,589.19 190.28,589.33 188.97,590.45 189.37,592.12 187.90,591.23 186.43,592.12 186.83,590.45 185.52,589.33 187.24,589.19" fill="#1a1a1a"/>
<line x1="315.4" y1="534.2" x2="315.4" y2="661.0999999999999" stroke="#000" stroke-width="1.9"/>
<line x1="310.4" y1="538.1" x2="315.4" y2="538.1" stroke="#000" stroke-width="1.4"/>
<text x="305.3" y="542.3000000000001" font-size="12" text-anchor="end">25</text>
<line x1="310.4" y1="562.5400000000001" x2="315.4" y2="562.5400000000001" stroke="#000" stroke-width="1.4"/>
<text x="305.3" y="566.7400000000001" font-size="12" text-anchor="end">20</text>
<line x1="310.4" y1="586.98" x2="315.4" y2="586.98" stroke="#000" stroke-width="1.4"/>
<text x="305.3" y="591.1800000000001" font-size="12" text-anchor="end">15</text>
<line x1="310.4" y1="611.4200000000001" x2="315.4" y2="611.4200000000001" stroke="#000" stroke-width="1.4"/>
<text x="305.3" y="615.6200000000001" font-size="12" text-anchor="end">10</text>
<line x1="310.4" y1="635.86" x2="315.4" y2="635.86" stroke="#000" stroke-width="1.4"/>
<text x="305.3" y="640.0600000000001" font-size="12" text-anchor="end">5</text>
<line x1="310.4" y1="660.3000000000001" x2="315.4" y2="660.3000000000001" stroke="#000" stroke-width="1.4"/>
<text x="305.3" y="664.5000000000001" font-size="12" text-anchor="end">0</text>
<line x1="314.5" y1="660.3" x2="501" y2="660.3" stroke="#000" stroke-width="1.6"/>
<line x1="315.4" y1="660.3" x2="315.4" y2="664.8" stroke="#000" stroke-width="1.4"/>
<text x="315.4" y="680.8" font-size="12" text-anchor="middle">0</text>
<line x1="361.4" y1="660.3" x2="361.4" y2="664.8" stroke="#000" stroke-width="1.4"/>
<text x="361.4" y="680.8" font-size="12" text-anchor="middle">25</text>
<line x1="407.3" y1="660.3" x2="407.3" y2="664.8" stroke="#000" stroke-width="1.4"/>
<text x="407.3" y="680.8" font-size="12" text-anchor="middle">50</text>
<line x1="453.2" y1="660.3" x2="453.2" y2="664.8" stroke="#000" stroke-width="1.4"/>
<text x="453.2" y="680.8" font-size="12" text-anchor="middle">75</text>
<line x1="499.1" y1="660.3" x2="499.1" y2="664.8" stroke="#000" stroke-width="1.4"/>
<text x="499.1" y="680.8" font-size="12" text-anchor="middle">100</text>
<text x="283" y="596.9" font-size="14.6" text-anchor="middle" textLength="77.1" lengthAdjust="spacingAndGlyphs" transform="rotate(-90 283 596.9)">Weights (gms)</text>
<text x="409" y="701.3" font-size="14.3" text-anchor="middle" textLength="80.5" lengthAdjust="spacingAndGlyphs">Days POST-BMT</text>
<polyline points="315.30,555.50 321.20,562.00 326.60,568.00 333.90,567.70 341.20,565.10 348.10,562.50 354.10,565.10 361.10,568.60 368.50,566.80 377.80,566.80 390.20,573.30 403.10,574.20 415.80,570.50 428.50,568.20 441.20,567.20 454.30,567.70 467.20,566.50 479.90,563.80 492.60,563.10" fill="none" stroke="#6ba543" stroke-width="2.2" stroke-linejoin="miter"/>
<line x1="354.1" y1="562.6" x2="354.1" y2="567.6" stroke="#6ba543" stroke-width="1.3"/>
<line x1="351.1" y1="562.6" x2="357.1" y2="562.6" stroke="#6ba543" stroke-width="1.3"/>
<line x1="351.1" y1="567.6" x2="357.1" y2="567.6" stroke="#6ba543" stroke-width="1.3"/>
<line x1="368.5" y1="562.8" x2="368.5" y2="570.8" stroke="#6ba543" stroke-width="1.3"/>
<line x1="365.5" y1="562.8" x2="371.5" y2="562.8" stroke="#6ba543" stroke-width="1.3"/>
<line x1="365.5" y1="570.8" x2="371.5" y2="570.8" stroke="#6ba543" stroke-width="1.3"/>
<line x1="377.8" y1="562.8" x2="377.8" y2="570.8" stroke="#6ba543" stroke-width="1.3"/>
<line x1="374.8" y1="562.8" x2="380.8" y2="562.8" stroke="#6ba543" stroke-width="1.3"/>
<line x1="374.8" y1="570.8" x2="380.8" y2="570.8" stroke="#6ba543" stroke-width="1.3"/>
<line x1="390.2" y1="569.3" x2="390.2" y2="577.3" stroke="#6ba543" stroke-width="1.3"/>
<line x1="387.2" y1="569.3" x2="393.2" y2="569.3" stroke="#6ba543" stroke-width="1.3"/>
<line x1="387.2" y1="577.3" x2="393.2" y2="577.3" stroke="#6ba543" stroke-width="1.3"/>
<line x1="403.1" y1="570.2" x2="403.1" y2="578.2" stroke="#6ba543" stroke-width="1.3"/>
<line x1="400.1" y1="570.2" x2="406.1" y2="570.2" stroke="#6ba543" stroke-width="1.3"/>
<line x1="400.1" y1="578.2" x2="406.1" y2="578.2" stroke="#6ba543" stroke-width="1.3"/>
<line x1="415.8" y1="566.5" x2="415.8" y2="574.5" stroke="#6ba543" stroke-width="1.3"/>
<line x1="412.8" y1="566.5" x2="418.8" y2="566.5" stroke="#6ba543" stroke-width="1.3"/>
<line x1="412.8" y1="574.5" x2="418.8" y2="574.5" stroke="#6ba543" stroke-width="1.3"/>
<line x1="428.5" y1="564.2" x2="428.5" y2="572.2" stroke="#6ba543" stroke-width="1.3"/>
<line x1="425.5" y1="564.2" x2="431.5" y2="564.2" stroke="#6ba543" stroke-width="1.3"/>
<line x1="425.5" y1="572.2" x2="431.5" y2="572.2" stroke="#6ba543" stroke-width="1.3"/>
<line x1="441.2" y1="562.7" x2="441.2" y2="571.7" stroke="#6ba543" stroke-width="1.3"/>
<line x1="438.2" y1="562.7" x2="444.2" y2="562.7" stroke="#6ba543" stroke-width="1.3"/>
<line x1="438.2" y1="571.7" x2="444.2" y2="571.7" stroke="#6ba543" stroke-width="1.3"/>
<line x1="454.3" y1="563.7" x2="454.3" y2="571.7" stroke="#6ba543" stroke-width="1.3"/>
<line x1="451.3" y1="563.7" x2="457.3" y2="563.7" stroke="#6ba543" stroke-width="1.3"/>
<line x1="451.3" y1="571.7" x2="457.3" y2="571.7" stroke="#6ba543" stroke-width="1.3"/>
<line x1="467.2" y1="562.5" x2="467.2" y2="570.5" stroke="#6ba543" stroke-width="1.3"/>
<line x1="464.2" y1="562.5" x2="470.2" y2="562.5" stroke="#6ba543" stroke-width="1.3"/>
<line x1="464.2" y1="570.5" x2="470.2" y2="570.5" stroke="#6ba543" stroke-width="1.3"/>
<line x1="479.9" y1="559.8" x2="479.9" y2="567.8" stroke="#6ba543" stroke-width="1.3"/>
<line x1="476.9" y1="559.8" x2="482.9" y2="559.8" stroke="#6ba543" stroke-width="1.3"/>
<line x1="476.9" y1="567.8" x2="482.9" y2="567.8" stroke="#6ba543" stroke-width="1.3"/>
<line x1="492.6" y1="559.1" x2="492.6" y2="567.1" stroke="#6ba543" stroke-width="1.3"/>
<line x1="489.6" y1="559.1" x2="495.6" y2="559.1" stroke="#6ba543" stroke-width="1.3"/>
<line x1="489.6" y1="567.1" x2="495.6" y2="567.1" stroke="#6ba543" stroke-width="1.3"/>
<polygon points="311.80,558.30 318.80,558.30 315.30,552.70" fill="#6ba543"/>
<polygon points="317.70,564.80 324.70,564.80 321.20,559.20" fill="#6ba543"/>
<polygon points="323.10,570.80 330.10,570.80 326.60,565.20" fill="#6ba543"/>
<polygon points="330.40,570.50 337.40,570.50 333.90,564.90" fill="#6ba543"/>
<polygon points="337.70,567.90 344.70,567.90 341.20,562.30" fill="#6ba543"/>
<polygon points="344.60,565.30 351.60,565.30 348.10,559.70" fill="#6ba543"/>
<polygon points="350.60,567.90 357.60,567.90 354.10,562.30" fill="#6ba543"/>
<polygon points="357.60,571.40 364.60,571.40 361.10,565.80" fill="#6ba543"/>
<polygon points="365.00,569.60 372.00,569.60 368.50,564.00" fill="#6ba543"/>
<polygon points="374.30,569.60 381.30,569.60 377.80,564.00" fill="#6ba543"/>
<polygon points="386.70,576.10 393.70,576.10 390.20,570.50" fill="#6ba543"/>
<polygon points="399.60,577.00 406.60,577.00 403.10,571.40" fill="#6ba543"/>
<polygon points="412.30,573.30 419.30,573.30 415.80,567.70" fill="#6ba543"/>
<polygon points="425.00,571.00 432.00,571.00 428.50,565.40" fill="#6ba543"/>
<polygon points="437.70,570.00 444.70,570.00 441.20,564.40" fill="#6ba543"/>
<polygon points="450.80,570.50 457.80,570.50 454.30,564.90" fill="#6ba543"/>
<polygon points="463.70,569.30 470.70,569.30 467.20,563.70" fill="#6ba543"/>
<polygon points="476.40,566.60 483.40,566.60 479.90,561.00" fill="#6ba543"/>
<polygon points="489.10,565.90 496.10,565.90 492.60,560.30" fill="#6ba543"/>
<polyline points="315.30,552.10 321.20,561.60 326.60,588.80 333.90,576.70 341.20,579.80 348.10,581.20 354.10,602.30" fill="none" stroke="#a3002b" stroke-width="2.2" stroke-linejoin="miter"/>
<line x1="315.3" y1="547.8000000000001" x2="315.3" y2="556.4" stroke="#a3002b" stroke-width="1.3"/>
<line x1="312.3" y1="547.8000000000001" x2="318.3" y2="547.8000000000001" stroke="#a3002b" stroke-width="1.3"/>
<line x1="312.3" y1="556.4" x2="318.3" y2="556.4" stroke="#a3002b" stroke-width="1.3"/>
<rect x="312.30" y="549.10" width="6" height="6" fill="#a3002b"/>
<rect x="318.20" y="558.60" width="6" height="6" fill="#a3002b"/>
<rect x="323.60" y="585.80" width="6" height="6" fill="#a3002b"/>
<rect x="330.90" y="573.70" width="6" height="6" fill="#a3002b"/>
<rect x="338.20" y="576.80" width="6" height="6" fill="#a3002b"/>
<rect x="345.10" y="578.20" width="6" height="6" fill="#a3002b"/>
<rect x="351.10" y="599.30" width="6" height="6" fill="#a3002b"/>
<line x1="403.1" y1="555.5" x2="403.1" y2="561.5" stroke="#2d4b7f" stroke-width="1.3"/>
<line x1="400.1" y1="555.5" x2="406.1" y2="555.5" stroke="#2d4b7f" stroke-width="1.3"/>
<line x1="400.1" y1="561.5" x2="406.1" y2="561.5" stroke="#2d4b7f" stroke-width="1.3"/>
<line x1="415.8" y1="550.2" x2="415.8" y2="556.2" stroke="#2d4b7f" stroke-width="1.3"/>
<line x1="412.8" y1="550.2" x2="418.8" y2="550.2" stroke="#2d4b7f" stroke-width="1.3"/>
<line x1="412.8" y1="556.2" x2="418.8" y2="556.2" stroke="#2d4b7f" stroke-width="1.3"/>
<line x1="428.5" y1="550.2" x2="428.5" y2="556.2" stroke="#2d4b7f" stroke-width="1.3"/>
<line x1="425.5" y1="550.2" x2="431.5" y2="550.2" stroke="#2d4b7f" stroke-width="1.3"/>
<line x1="425.5" y1="556.2" x2="431.5" y2="556.2" stroke="#2d4b7f" stroke-width="1.3"/>
<line x1="441.2" y1="550.2" x2="441.2" y2="556.2" stroke="#2d4b7f" stroke-width="1.3"/>
<line x1="438.2" y1="550.2" x2="444.2" y2="550.2" stroke="#2d4b7f" stroke-width="1.3"/>
<line x1="438.2" y1="556.2" x2="444.2" y2="556.2" stroke="#2d4b7f" stroke-width="1.3"/>
<polyline points="315.30,553.00 321.20,561.10 326.60,563.40 333.90,562.80 341.20,561.10 348.10,557.80 354.10,556.80 361.10,556.40 368.50,557.00 377.80,557.80 390.20,559.40 403.10,558.50 415.80,553.20 428.50,553.20 441.20,553.20 454.30,554.30 467.20,554.30 479.90,552.70 492.60,552.70" fill="none" stroke="#2d4b7f" stroke-width="1.8" stroke-linejoin="miter" stroke-dasharray="1.6 3.5"/>
<circle cx="315.3" cy="553" r="2.85" fill="#2d4b7f"/>
<circle cx="321.2" cy="561.1" r="2.85" fill="#2d4b7f"/>
<circle cx="326.6" cy="563.4" r="2.85" fill="#2d4b7f"/>
<circle cx="333.9" cy="562.8" r="2.85" fill="#2d4b7f"/>
<circle cx="341.2" cy="561.1" r="2.85" fill="#2d4b7f"/>
<circle cx="348.1" cy="557.8" r="2.85" fill="#2d4b7f"/>
<circle cx="354.1" cy="556.8" r="2.85" fill="#2d4b7f"/>
<circle cx="361.1" cy="556.4" r="2.85" fill="#2d4b7f"/>
<circle cx="368.5" cy="557" r="2.85" fill="#2d4b7f"/>
<circle cx="377.8" cy="557.8" r="2.85" fill="#2d4b7f"/>
<circle cx="390.2" cy="559.4" r="2.85" fill="#2d4b7f"/>
<circle cx="403.1" cy="558.5" r="2.85" fill="#2d4b7f"/>
<circle cx="415.8" cy="553.2" r="2.85" fill="#2d4b7f"/>
<circle cx="428.5" cy="553.2" r="2.85" fill="#2d4b7f"/>
<circle cx="441.2" cy="553.2" r="2.85" fill="#2d4b7f"/>
<circle cx="454.3" cy="554.3" r="2.85" fill="#2d4b7f"/>
<circle cx="467.2" cy="554.3" r="2.85" fill="#2d4b7f"/>
<circle cx="479.9" cy="552.7" r="2.85" fill="#2d4b7f"/>
<circle cx="492.6" cy="552.7" r="2.85" fill="#2d4b7f"/>
<polygon points="321.10,594.25 321.75,595.81 323.43,595.94 322.15,597.04 322.54,598.68 321.10,597.80 319.66,598.68 320.05,597.04 318.77,595.94 320.45,595.81" fill="#1a1a1a"/>
<polygon points="326.30,594.25 326.95,595.81 328.63,595.94 327.35,597.04 327.74,598.68 326.30,597.80 324.86,598.68 325.25,597.04 323.97,595.94 325.65,595.81" fill="#1a1a1a"/>
<polygon points="331.50,594.25 332.15,595.81 333.83,595.94 332.55,597.04 332.94,598.68 331.50,597.80 330.06,598.68 330.45,597.04 329.17,595.94 330.85,595.81" fill="#1a1a1a"/>
<line x1="63" y1="781" x2="63" y2="913.3" stroke="#000" stroke-width="1.9"/>
<line x1="58" y1="912.5" x2="63" y2="912.5" stroke="#000" stroke-width="1.4"/>
<text x="53.5" y="916.7" font-size="12" text-anchor="end">0</text>
<line x1="58" y1="887.2" x2="63" y2="887.2" stroke="#000" stroke-width="1.4"/>
<text x="53.5" y="891.4000000000001" font-size="12" text-anchor="end">1</text>
<line x1="58" y1="861.9" x2="63" y2="861.9" stroke="#000" stroke-width="1.4"/>
<text x="53.5" y="866.1" font-size="12" text-anchor="end">2</text>
<line x1="58" y1="836.6" x2="63" y2="836.6" stroke="#000" stroke-width="1.4"/>
<text x="53.5" y="840.8000000000001" font-size="12" text-anchor="end">3</text>
<line x1="58" y1="811.3" x2="63" y2="811.3" stroke="#000" stroke-width="1.4"/>
<text x="53.5" y="815.5" font-size="12" text-anchor="end">4</text>
<line x1="58" y1="786.0" x2="63" y2="786.0" stroke="#000" stroke-width="1.4"/>
<text x="53.5" y="790.2" font-size="12" text-anchor="end">5</text>
<text x="37.9" y="846.6" font-size="14.6" text-anchor="middle" textLength="81.9" lengthAdjust="spacingAndGlyphs" transform="rotate(-90 37.9 846.6)">Pathology score</text>
<line x1="62.3" y1="912.5" x2="274.6" y2="912.5" stroke="#000" stroke-width="1.4"/>
<line x1="78.8" y1="890" x2="78.8" y2="895.2" stroke="#6ba543" stroke-width="1.5"/>
<line x1="75.39999999999999" y1="890" x2="82.2" y2="890" stroke="#6ba543" stroke-width="1.5"/>
<rect x="72.50" y="895.20" width="12.6" height="17.30" fill="#6ba543"/>
<line x1="98.2" y1="811.2" x2="98.2" y2="813.5" stroke="#6ba543" stroke-width="1.5"/>
<line x1="94.8" y1="811.2" x2="101.60000000000001" y2="811.2" stroke="#6ba543" stroke-width="1.5"/>
<rect x="91.90" y="813.50" width="12.6" height="99.00" fill="#6ba543"/>
<line x1="117.6" y1="856.3" x2="117.6" y2="862.1" stroke="#6ba543" stroke-width="1.5"/>
<line x1="114.19999999999999" y1="856.3" x2="121.0" y2="856.3" stroke="#6ba543" stroke-width="1.5"/>
<rect x="111.30" y="862.10" width="12.6" height="50.40" fill="#6ba543"/>
<line x1="149.5" y1="878.3" x2="149.5" y2="885" stroke="#a3002b" stroke-width="1.5"/>
<line x1="146.1" y1="878.3" x2="152.9" y2="878.3" stroke="#a3002b" stroke-width="1.5"/>
<rect x="143.20" y="885.00" width="12.6" height="27.50" fill="#a3002b"/>
<line x1="168.8" y1="840.5" x2="168.8" y2="850" stroke="#a3002b" stroke-width="1.5"/>
<line x1="165.4" y1="840.5" x2="172.20000000000002" y2="840.5" stroke="#a3002b" stroke-width="1.5"/>
<rect x="162.50" y="850.00" width="12.6" height="62.50" fill="#a3002b"/>
<line x1="188.1" y1="881.8" x2="188.1" y2="887.5" stroke="#a3002b" stroke-width="1.5"/>
<line x1="184.7" y1="881.8" x2="191.5" y2="881.8" stroke="#a3002b" stroke-width="1.5"/>
<rect x="181.80" y="887.50" width="12.6" height="25.00" fill="#a3002b"/>
<line x1="239.3" y1="863.8" x2="239.3" y2="868.7" stroke="#2d4b7f" stroke-width="1.5"/>
<line x1="235.9" y1="863.8" x2="242.70000000000002" y2="863.8" stroke="#2d4b7f" stroke-width="1.5"/>
<rect x="233.00" y="868.70" width="12.6" height="43.80" fill="#2d4b7f"/>
<line x1="258.5" y1="883.5" x2="258.5" y2="890.2" stroke="#2d4b7f" stroke-width="1.5"/>
<line x1="255.1" y1="883.5" x2="261.9" y2="883.5" stroke="#2d4b7f" stroke-width="1.5"/>
<rect x="252.20" y="890.20" width="12.6" height="22.30" fill="#2d4b7f"/>
<line x1="78.8" y1="912.5" x2="78.8" y2="917" stroke="#000" stroke-width="1.4"/>
<line x1="98.2" y1="912.5" x2="98.2" y2="917" stroke="#000" stroke-width="1.4"/>
<line x1="117.6" y1="912.5" x2="117.6" y2="917" stroke="#000" stroke-width="1.4"/>
<line x1="149.5" y1="912.5" x2="149.5" y2="917" stroke="#000" stroke-width="1.4"/>
<line x1="168.8" y1="912.5" x2="168.8" y2="917" stroke="#000" stroke-width="1.4"/>
<line x1="188.1" y1="912.5" x2="188.1" y2="917" stroke="#000" stroke-width="1.4"/>
<line x1="219.9" y1="912.5" x2="219.9" y2="917" stroke="#000" stroke-width="1.4"/>
<line x1="239.3" y1="912.5" x2="239.3" y2="917" stroke="#000" stroke-width="1.4"/>
<line x1="258.5" y1="912.5" x2="258.5" y2="917" stroke="#000" stroke-width="1.4"/>
<line x1="75" y1="809.7" x2="90.6" y2="809.7" stroke="#222" stroke-width="1.5"/>
<polygon points="74.85,801.10 75.56,802.82 77.42,802.97 76.01,804.18 76.44,805.98 74.85,805.01 73.26,805.98 73.69,804.18 72.28,802.97 74.14,802.82" fill="#1a1a1a"/>
<polygon points="80.15,801.10 80.86,802.82 82.72,802.97 81.31,804.18 81.74,805.98 80.15,805.01 78.56,805.98 78.99,804.18 77.58,802.97 79.44,802.82" fill="#1a1a1a"/>
<polygon points="85.45,801.10 86.16,802.82 88.02,802.97 86.61,804.18 87.04,805.98 85.45,805.01 83.86,805.98 84.29,804.18 82.88,802.97 84.74,802.82" fill="#1a1a1a"/>
<polygon points="90.75,801.10 91.46,802.82 93.32,802.97 91.91,804.18 92.34,805.98 90.75,805.01 89.16,805.98 89.59,804.18 88.18,802.97 90.04,802.82" fill="#1a1a1a"/>
<line x1="103" y1="805.8" x2="118.8" y2="805.8" stroke="#222" stroke-width="1.5"/>
<polygon points="103.05,797.10 103.76,798.82 105.62,798.97 104.21,800.18 104.64,801.98 103.05,801.01 101.46,801.98 101.89,800.18 100.48,798.97 102.34,798.82" fill="#1a1a1a"/>
<polygon points="108.35,797.10 109.06,798.82 110.92,798.97 109.51,800.18 109.94,801.98 108.35,801.01 106.76,801.98 107.19,800.18 105.78,798.97 107.64,798.82" fill="#1a1a1a"/>
<polygon points="113.65,797.10 114.36,798.82 116.22,798.97 114.81,800.18 115.24,801.98 113.65,801.01 112.06,801.98 112.49,800.18 111.08,798.97 112.94,798.82" fill="#1a1a1a"/>
<polygon points="118.95,797.10 119.66,798.82 121.52,798.97 120.11,800.18 120.54,801.98 118.95,801.01 117.36,801.98 117.79,800.18 116.38,798.97 118.24,798.82" fill="#1a1a1a"/>
<line x1="147" y1="846.5" x2="162.5" y2="846.5" stroke="#000" stroke-width="1.3"/>
<polygon points="154.50,838.15 155.15,839.71 156.83,839.84 155.55,840.94 155.94,842.58 154.50,841.70 153.06,842.58 153.45,840.94 152.17,839.84 153.85,839.71" fill="#1a1a1a"/>
<line x1="171.2" y1="836.3" x2="186.2" y2="836.3" stroke="#000" stroke-width="1.3"/>
<polygon points="176.10,828.55 176.75,830.11 178.43,830.24 177.15,831.34 177.54,832.98 176.10,832.10 174.66,832.98 175.05,831.34 173.77,830.24 175.45,830.11" fill="#1a1a1a"/>
<polygon points="181.30,828.55 181.95,830.11 183.63,830.24 182.35,831.34 182.74,832.98 181.30,832.10 179.86,832.98 180.25,831.34 178.97,830.24 180.65,830.11" fill="#1a1a1a"/>
<line x1="248.1" y1="859.6" x2="264" y2="859.6" stroke="#000" stroke-width="1.3"/>
<polygon points="256.20,851.25 256.85,852.81 258.53,852.94 257.25,854.04 257.64,855.68 256.20,854.80 254.76,855.68 255.15,854.04 253.87,852.94 255.55,852.81" fill="#1a1a1a"/>
<rect x="279.2" y="829.20" width="10.3" height="7" fill="#6ba543"/>
<text x="293.9" y="836.3000000000001" font-size="10.6" text-anchor="start" class="lg" textLength="31.5" lengthAdjust="spacingAndGlyphs">Colon</text>
<rect x="279.2" y="843.50" width="10.3" height="7" fill="#a3002b"/>
<text x="293.9" y="850.6" font-size="10.6" text-anchor="start" class="lg" textLength="29.2" lengthAdjust="spacingAndGlyphs">Ileum</text>
<rect x="279.2" y="857.80" width="10.3" height="7" fill="#2d4b7f"/>
<text x="293.9" y="864.9000000000001" font-size="10.6" text-anchor="start" class="lg" textLength="25.2" lengthAdjust="spacingAndGlyphs">Liver</text>
<g transform="translate(83.10,927.40) rotate(-45)" class="nl"><text x="-17.6" y="0" font-size="11.4" textLength="17.6" lengthAdjust="spacingAndGlyphs">BM</text></g>
<g transform="translate(102.50,927.40) rotate(-45)" class="nl"><text x="-6.6" y="0" font-size="11.4" textLength="6.4" lengthAdjust="spacingAndGlyphs">T</text><text x="-16.40" y="-4.2" font-size="7" textLength="9.4" lengthAdjust="spacingAndGlyphs">+/+</text><text x="-78.8" y="0" font-size="11.4" textLength="61.80" lengthAdjust="spacingAndGlyphs">BM+ ltpkb</text></g>
<g transform="translate(121.90,927.40) rotate(-45)" class="nl"><text x="-6.6" y="0" font-size="11.4" textLength="6.4" lengthAdjust="spacingAndGlyphs">T</text><text x="-14.20" y="-4.2" font-size="7" textLength="7.2" lengthAdjust="spacingAndGlyphs">-/-</text><text x="-78.8" y="0" font-size="11.4" textLength="64.00" lengthAdjust="spacingAndGlyphs">BM+ ltpkb</text></g>
<g transform="translate(153.80,927.40) rotate(-45)" class="nl"><text x="-17.6" y="0" font-size="11.4" textLength="17.6" lengthAdjust="spacingAndGlyphs">BM</text></g>
<g transform="translate(173.20,927.40) rotate(-45)" class="nl"><text x="-6.6" y="0" font-size="11.4" textLength="6.4" lengthAdjust="spacingAndGlyphs">T</text><text x="-16.40" y="-4.2" font-size="7" textLength="9.4" lengthAdjust="spacingAndGlyphs">+/+</text><text x="-78.8" y="0" font-size="11.4" textLength="61.80" lengthAdjust="spacingAndGlyphs">BM+ ltpkb</text></g>
<g transform="translate(192.60,927.40) rotate(-45)" class="nl"><text x="-6.6" y="0" font-size="11.4" textLength="6.4" lengthAdjust="spacingAndGlyphs">T</text><text x="-14.20" y="-4.2" font-size="7" textLength="7.2" lengthAdjust="spacingAndGlyphs">-/-</text><text x="-78.8" y="0" font-size="11.4" textLength="64.00" lengthAdjust="spacingAndGlyphs">BM+ ltpkb</text></g>
<g transform="translate(224.20,927.40) rotate(-45)" class="nl"><text x="-17.6" y="0" font-size="11.4" textLength="17.6" lengthAdjust="spacingAndGlyphs">BM</text></g>
<g transform="translate(243.60,927.40) rotate(-45)" class="nl"><text x="-6.6" y="0" font-size="11.4" textLength="6.4" lengthAdjust="spacingAndGlyphs">T</text><text x="-16.40" y="-4.2" font-size="7" textLength="9.4" lengthAdjust="spacingAndGlyphs">+/+</text><text x="-78.8" y="0" font-size="11.4" textLength="61.80" lengthAdjust="spacingAndGlyphs">BM+ ltpkb</text></g>
<g transform="translate(263.00,927.40) rotate(-45)" class="nl"><text x="-6.6" y="0" font-size="11.4" textLength="6.4" lengthAdjust="spacingAndGlyphs">T</text><text x="-14.20" y="-4.2" font-size="7" textLength="7.2" lengthAdjust="spacingAndGlyphs">-/-</text><text x="-78.8" y="0" font-size="11.4" textLength="64.00" lengthAdjust="spacingAndGlyphs">BM+ ltpkb</text></g>
<rect x="0" y="0" width="1.5" height="997" fill="#000"/>
<rect x="0" y="0" width="520" height="2.2" fill="#000"/>
<rect x="518.2" y="0" width="1.8" height="997" fill="#000"/>
<rect x="0" y="995.4" width="520" height="1.6" fill="#000"/>
</svg>
</body></html>
